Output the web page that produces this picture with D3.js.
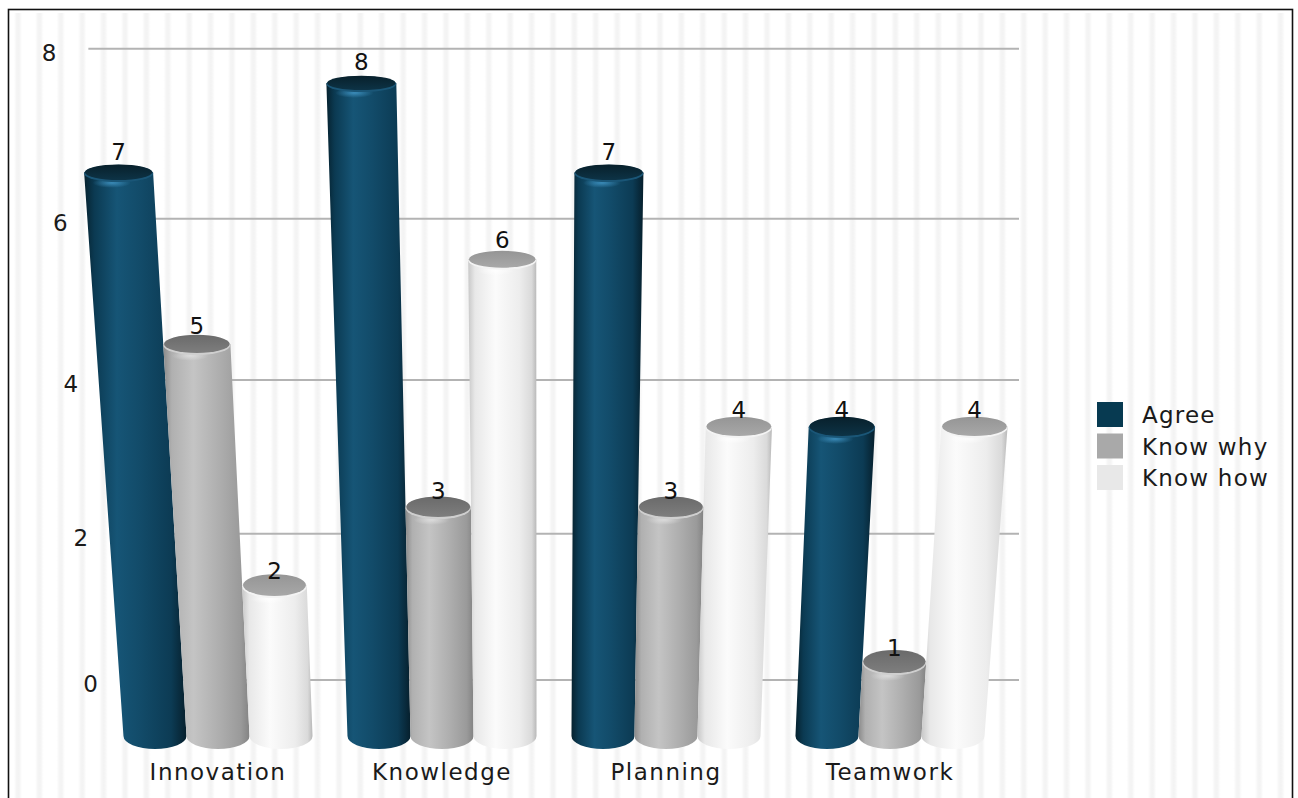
<!DOCTYPE html>
<html><head><meta charset="utf-8">
<script src="https://cdn.jsdelivr.net/npm/d3@7"></script>
<style>
body{margin:0;background:#fff;}
svg{display:block;}
text{font-family:"DejaVu Sans",sans-serif;}
</style>
</head><body>
<svg id="c" width="1298" height="798"></svg>
<script>
const categories = ["Innovation", "Knowledge", "Planning", "Teamwork"];
const seriesNames = ["Agree", "Know why", "Know how"];
const agree = [7, 8, 7, 4];
const knowWhy = [5, 3, 3, 1];
const knowHow = [2, 6, 4, 4];
const yTicks = [0, 2, 4, 6, 8];
const seriesValues = [agree, knowWhy, knowHow];

const W = 1298, H = 798;
const svg = d3.select("#c");
const defs = svg.append("defs");

// ---------- background stripes ----------
const sg = defs.append("linearGradient").attr("id", "stripeGrad").attr("x1", 0).attr("x2", 1).attr("y1", 0).attr("y2", 0);
[[0, "#ffffff"], [0.3, "#f5f5f5"], [0.5, "#f3f3f3"], [0.7, "#f5f5f5"], [1, "#ffffff"]].forEach(([o, c]) => sg.append("stop").attr("offset", o).attr("stop-color", c));
const pat = defs.append("pattern").attr("id", "stripes").attr("patternUnits", "userSpaceOnUse")
  .attr("x", 14).attr("y", 0).attr("width", 21.4).attr("height", 20);
pat.append("rect").attr("width", 21.4).attr("height", 20).attr("fill", "#fff");
pat.append("rect").attr("x", 0).attr("width", 8).attr("height", 20).attr("fill", "url(#stripeGrad)");
svg.append("rect").attr("width", W).attr("height", H).attr("fill", "#fff");
svg.append("rect").attr("x", 10).attr("y", 13).attr("width", 1281).attr("height", H).attr("fill", "url(#stripes)");
svg.append("rect").attr("x", 8.5).attr("y", 9.5).attr("width", 1284).attr("height", 840)
  .attr("fill", "none").attr("stroke", "#111").attr("stroke-width", 1.6);

// ---------- scales & perspective ----------
const VY = 6700;
const barPlane = { vx: 540, y0: 736, depth: d3.scaleLinear().domain([0, 8]).range([1, 0.9013]) };
const wallPlane = { vx: 485, y0: 680, depth: d3.scaleLinear().domain([0, 8]).range([1, 0.9051]) };
function project(plane, x0, v) {
  const w = plane.depth(v);
  return [plane.vx + (x0 - plane.vx) / w, VY + (plane.y0 - VY) / w];
}
const xGroup = d3.scaleBand().domain(categories).range([106, 1002]).paddingInner(0.156).paddingOuter(0.078);
const xSeries = d3.scaleBand().domain(seriesNames).range([0, xGroup.bandwidth()]);
const capRy = d3.scaleLinear().domain([0, 8]).range([13, 8]);
const labelOffset = d3.scaleLinear().domain([0, 8]).range([4, 13]);

// ---------- gridlines & tick labels ----------
const grid = svg.append("g");
yTicks.forEach(t => {
  const L = project(wallPlane, 126, t);
  grid.append("line").attr("x1", L[0]).attr("x2", 1019).attr("y1", L[1]).attr("y2", L[1])
    .attr("stroke", "#b3b3b3").attr("stroke-width", 2);
  const P = project(wallPlane, 90.5, t);
  grid.append("text").attr("x", P[0]).attr("y", P[1] + 12).attr("text-anchor", "middle")
    .attr("font-size", 23).attr("fill", "#1a1a1a").text(t);
});

// ---------- gradients for cylinders ----------
const styles = {
  "Agree": {
    side: [[0, "#06222f"], [0.1, "#0b3a52"], [0.32, "#165576"], [0.55, "#124b69"], [0.85, "#0c3b54"], [1, "#061f2c"]],
    cap: [[0, "#08202b"], [1, "#0d3346"]], rim: "#1a5677", hi: "#4aa3d6", legend: "#073a51"
  },
  "Know why": {
    side: [[0, "#8a8a8a"], [0.1, "#b0b0b0"], [0.35, "#c4c4c4"], [0.65, "#aeaeae"], [0.9, "#9a9a9a"], [1, "#838383"]],
    cap: [[0, "#6a6a6a"], [1, "#7e7e7e"]], rim: "#cfcfcf", hi: "#e6e6e6", legend: "#a9a9a9"
  },
  "Know how": {
    side: [[0, "#c8c8c8"], [0.1, "#e8e8e8"], [0.4, "#fbfbfb"], [0.75, "#ededed"], [0.93, "#dadada"], [1, "#b8b8b8"]],
    cap: [[0, "#959595"], [1, "#a8a8a8"]], rim: "#f4f4f4", hi: "#ffffff", legend: "#e8e8e8"
  }
};
seriesNames.forEach((s, j) => {
  const st = styles[s];
  const g1 = defs.append("linearGradient").attr("id", "side" + j).attr("x1", 0).attr("x2", 1).attr("y1", 0).attr("y2", 0);
  st.side.forEach(([o, c]) => g1.append("stop").attr("offset", o).attr("stop-color", c));
  const g2 = defs.append("linearGradient").attr("id", "cap" + j).attr("x1", 0).attr("x2", 0).attr("y1", 0).attr("y2", 1);
  st.cap.forEach(([o, c]) => g2.append("stop").attr("offset", o).attr("stop-color", c));
  const g3 = defs.append("radialGradient").attr("id", "hi" + j);
  g3.append("stop").attr("offset", 0).attr("stop-color", st.hi).attr("stop-opacity", 0.7);
  g3.append("stop").attr("offset", 1).attr("stop-color", st.hi).attr("stop-opacity", 0);
});

// ---------- bars ----------
const barsG = svg.append("g");
const half = xSeries.bandwidth() / 2;
categories.forEach((cat, i) => {
  seriesNames.forEach((s, j) => {
    const v = seriesValues[j][i];
    const x0 = xGroup(cat) + xSeries(s) + half;
    const top = project(barPlane, x0, v);
    const bot = project(barPlane, x0, 0);
    const th = half / barPlane.depth(v);
    const ryT = capRy(v), ryB = capRy(0);
    const g = barsG.append("g");
    const side = `M${top[0] - th},${top[1]} L${bot[0] - half},${bot[1]} A${half},${ryB} 0 0 0 ${bot[0] + half},${bot[1]} L${top[0] + th},${top[1]} Z`;
    g.append("path").attr("d", side).attr("fill", `url(#side${j})`);
    g.append("ellipse").attr("cx", top[0] - th * 0.2).attr("cy", top[1] + ryT + 2)
      .attr("rx", th * 0.55).attr("ry", 5).attr("fill", `url(#hi${j})`);
    g.append("ellipse").attr("cx", top[0]).attr("cy", top[1] + 1.2).attr("rx", th).attr("ry", ryT)
      .attr("fill", styles[s].rim);
    g.append("ellipse").attr("cx", top[0]).attr("cy", top[1]).attr("rx", th - 0.8).attr("ry", ryT - 0.8)
      .attr("fill", `url(#cap${j})`);
    g.append("text").attr("x", top[0]).attr("y", top[1] - labelOffset(v)).attr("text-anchor", "middle")
      .attr("font-size", 23).attr("fill", "#111").text(v);
  });
});

// ---------- category labels ----------
const catG = svg.append("g");
categories.forEach(cat => {
  catG.append("text").attr("x", xGroup(cat) + xGroup.bandwidth() / 2).attr("y", 780)
    .attr("text-anchor", "middle").attr("font-size", 23).attr("letter-spacing", 1.5)
    .attr("fill", "#1a1a1a").text(cat);
});

// ---------- legend ----------
const leg = svg.append("g");
const legY = d3.scalePoint().domain(seriesNames).range([423, 486]);
seriesNames.forEach(s => {
  const y = legY(s);
  leg.append("rect").attr("x", 1097).attr("y", y - 21).attr("width", 26).attr("height", 25).attr("fill", styles[s].legend);
  leg.append("text").attr("x", 1142).attr("y", y).attr("font-size", 23).attr("letter-spacing", 1.2)
    .attr("fill", "#1a1a1a").text(s);
});
</script>
</body></html>
